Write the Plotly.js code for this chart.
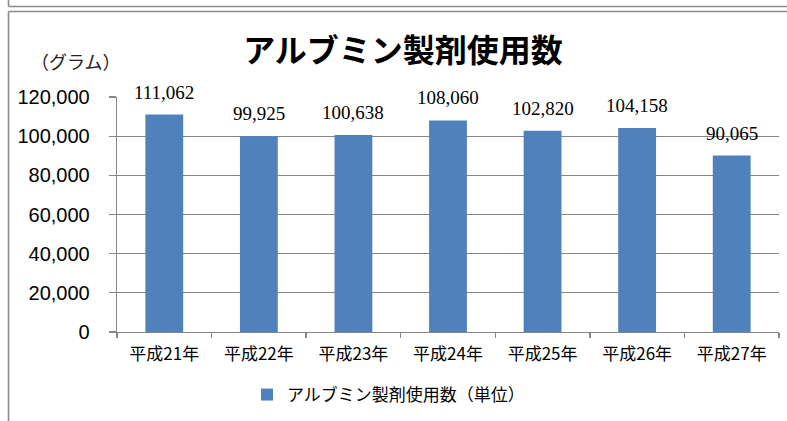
<!DOCTYPE html>
<html>
<head>
<meta charset="utf-8">
<script src="https://cdn.plot.ly/plotly-3.0.1.min.js"></script>
<style>
html,body{margin:0;padding:0;background:#fff;}
#chart{width:787px;height:421px;}
</style>
</head>
<body>
<div id="chart"></div>
<script>
var categories = ["平成21年","平成22年","平成23年","平成24年","平成25年","平成26年","平成27年"];
var values = [111062, 99925, 100638, 108060, 102820, 104158, 90065];
var valueLabels = ["111,062","99,925","100,638","108,060","102,820","104,158","90,065"];
var yTickVals = [0, 20000, 40000, 60000, 80000, 100000, 120000];
var yTickText = ["0","20,000","40,000","60,000","80,000","100,000","120,000"];
var seriesName = "アルブミン製剤使用数（単位）";
var titleText = "アルブミン製剤使用数";
var unitText = "（グラム）";

var W = 787, H = 421;
var M = {l:117, r:8, t:97, b:89};
var PW = W - M.l - M.r, PH = H - M.t - M.b;
function px(x){ return (x - M.l) / PW; }
function py(y){ return (H - M.b - y) / PH; }

var frameColor = "#8a8a8a";
var gridColor = "#868686";

var trace = {
  type: "bar",
  x: categories,
  y: values,
  name: seriesName,
  marker: {color: "#4F81BD"},
  hoverinfo: "x+y"
};

var annotations = categories.map(function(c, i){
  return {
    x: c, y: values[i], xref: "x", yref: "y",
    text: valueLabels[i], showarrow: false,
    yanchor: "bottom", yshift: 10,
    font: {family: "Liberation Serif, serif", size: 19, color: "#000"}
  };
});
annotations.push({
  xref: "paper", yref: "paper", x: px(75), y: py(63),
  xanchor: "center", yanchor: "middle", showarrow: false,
  text: unitText,
  font: {family: "Liberation Serif, Noto Sans CJK JP, serif", size: 18, color: "#222"}
});

var shapes = [
  {type:"line", xref:"paper", yref:"paper", x0:px(8.5), x1:px(8.5), y0:py(0), y1:py(6.5), line:{color:frameColor, width:1.6}},
  {type:"line", xref:"paper", yref:"paper", x0:px(8.5), x1:px(790), y0:py(6.5), y1:py(6.5), line:{color:frameColor, width:1.6}},
  {type:"line", xref:"paper", yref:"paper", x0:px(8.5), x1:px(790), y0:py(11.5), y1:py(11.5), line:{color:frameColor, width:1.6}},
  {type:"line", xref:"paper", yref:"paper", x0:px(8.5), x1:px(8.5), y0:py(11.5), y1:py(425), line:{color:frameColor, width:1.6}}
];

var layout = {
  width: W, height: H,
  margin: M,
  paper_bgcolor: "#fff",
  plot_bgcolor: "#fff",
  showlegend: true,
  bargap: 0.6,
  title: {
    text: "<b>" + titleText + "</b>",
    xref: "container", yref: "container",
    x: 403 / W, y: 1 - 51 / H, xanchor: "center", yanchor: "middle",
    font: {family: "Noto Sans CJK JP, sans-serif", size: 32, color: "#000"}
  },
  xaxis: {
    type: "category",
    showline: true, linecolor: gridColor, linewidth: 1.3,
    ticks: "outside", tickson: "boundaries", ticklen: 5, tickcolor: gridColor, tickwidth: 1.3,
    showgrid: false,
    tickfont: {family: "Noto Sans CJK JP, sans-serif", size: 17, color: "#000"},
    ticklabelstandoff: 6,
    fixedrange: true
  },
  yaxis: {
    range: [0, 120000],
    tickvals: yTickVals, ticktext: yTickText,
    showline: true, linecolor: gridColor, linewidth: 1.3,
    ticks: "outside", ticklen: 7, tickcolor: gridColor, tickwidth: 1.3,
    showgrid: true, gridcolor: gridColor, gridwidth: 1.3,
    zeroline: false,
    tickfont: {family: "Liberation Sans, Arial, sans-serif", size: 20, color: "#000"},
    ticklabelstandoff: 15,
    fixedrange: true
  },
  legend: {
    orientation: "h",
    xref: "container", yref: "container",
    x: 247 / W, y: 1 - 395 / H, xanchor: "left", yanchor: "middle",
    font: {family: "Noto Sans CJK JP, sans-serif", size: 17, color: "#000"},
    itemwidth: 30,
    bgcolor: "rgba(0,0,0,0)"
  },
  annotations: annotations,
  shapes: shapes
};

Plotly.newPlot("chart", [trace], layout, {displayModeBar: false, staticPlot: true});
</script>
</body>
</html>
